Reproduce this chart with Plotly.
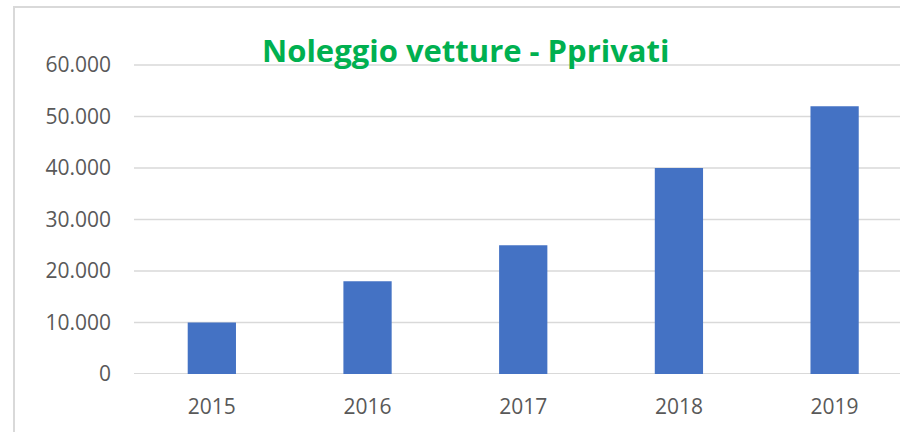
import plotly.graph_objects as go

years = ["2015", "2016", "2017", "2018", "2019"]
noleggi = [10000, 18000, 25000, 40000, 52000]
y_ticks = [0, 10000, 20000, 30000, 40000, 50000, 60000]
y_tick_labels = ["0", "10.000", "20.000", "30.000", "40.000", "50.000", "60.000"]
title_text = "Noleggio vetture - Pprivati"

W, H = 900, 432
L, R, T, B = 134, 0, 62, 58
pw = W - L - R
ph = H - T - B
y_top = 60000 * ph / 309.0  # keeps 60.000 on the reference row, leaves room for its gridline

def px_to_paper_x(x):
    return (x - L) / pw

def px_to_paper_y(y):
    return (H - B - y) / ph

fig = go.Figure(go.Bar(
    x=list(range(len(years))), y=noleggi,
    marker=dict(color="#4472C4", line=dict(width=0)),
    width=0.31,
))

grid_shapes = [dict(
    type="line", xref="paper", yref="y", x0=0, x1=1.2, y0=v, y1=v,
    line=dict(color="#d9d9d9", width=2 if v == 0 else 1.5), layer="below",
) for v in y_ticks]

frame = dict(
    type="rect", xref="paper", yref="paper",
    x0=px_to_paper_x(14), x1=px_to_paper_x(940),
    y0=px_to_paper_y(480), y1=px_to_paper_y(7),
    line=dict(color="#d9d9d9", width=2), fillcolor="rgba(0,0,0,0)",
    layer="below",
)

fig.update_layout(
    width=W, height=H,
    margin=dict(l=L, r=R, t=T, b=B),
    paper_bgcolor="white", plot_bgcolor="white",
    showlegend=False,
    font=dict(family="Open Sans", color="#595959", size=21),
    xaxis=dict(
        range=[-0.5, 4.42], tickvals=list(range(len(years))), ticktext=years,
        showgrid=False, zeroline=False, showline=False, ticks="",
        ticklabelstandoff=18,
    ),
    yaxis=dict(
        range=[0, y_top], tickvals=y_ticks, ticktext=y_tick_labels,
        showgrid=False, zeroline=False,
        showline=False, ticks="", ticklabelstandoff=22,
    ),
    shapes=[frame] + grid_shapes,
    annotations=[dict(
        text="<b>" + title_text + "</b>", xref="paper", yref="paper",
        x=px_to_paper_x(466), y=px_to_paper_y(50),
        xanchor="center", yanchor="middle", showarrow=False,
        font=dict(family="Open Sans", size=31, color="#00B050"),
    )],
)

fig.write_html(
    "out.html",
    config={"displayModeBar": False},
    post_script="document.body.style.margin='0';document.body.style.overflow='hidden';document.documentElement.style.overflow='hidden';",
)
